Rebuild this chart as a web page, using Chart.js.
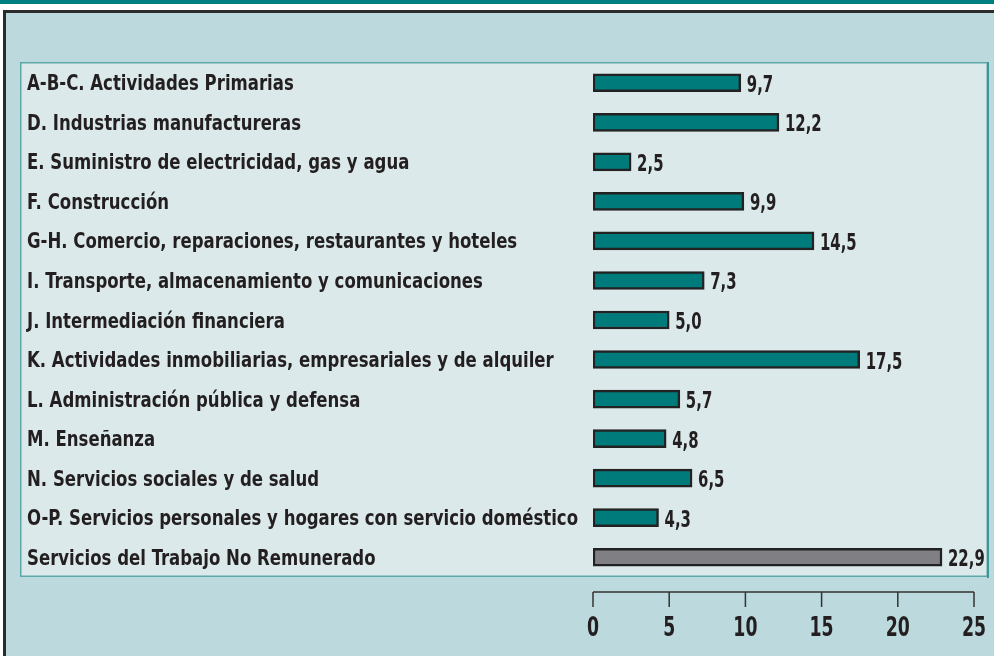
<!DOCTYPE html>
<html>
<head>
<meta charset="utf-8">
<script src="https://cdn.jsdelivr.net/npm/chart.js@4.4.1/dist/chart.umd.min.js"></script>
<style>
html,body{margin:0;padding:0;background:#fff;}
#wrap{position:relative;width:994px;height:656px;}
</style>
</head>
<body>
<div id="wrap"><canvas id="c" width="994" height="656"></canvas></div>
<script>
const categories = [
  "A-B-C. Actividades Primarias",
  "D. Industrias manufactureras",
  "E. Suministro de electricidad, gas y agua",
  "F. Construcción",
  "G-H. Comercio, reparaciones, restaurantes y hoteles",
  "I. Transporte, almacenamiento y comunicaciones",
  "J. Intermediación financiera",
  "K. Actividades inmobiliarias, empresariales y de alquiler",
  "L. Administración pública y defensa",
  "M. Enseñanza",
  "N. Servicios sociales y de salud",
  "O-P. Servicios personales y hogares con servicio doméstico",
  "Servicios del Trabajo No Remunerado"
];
const values = [9.7, 12.2, 2.5, 9.9, 14.5, 7.3, 5.0, 17.5, 5.7, 4.8, 6.5, 4.3, 22.9];
const highlighted = [false,false,false,false,false,false,false,false,false,false,false,false,true];
const xTicks = [0, 5, 10, 15, 20, 25];

const FONT = "'DejaVu Sans Condensed', 'Liberation Sans Narrow', sans-serif";
const TEAL = '#007b7c';
const GRAY = '#808084';
const INK = '#231f20';

function squeezedText(ctx, text, x, y, sx, align) {
  ctx.save();
  ctx.translate(x, y);
  ctx.scale(sx, 1);
  ctx.textAlign = align;
  ctx.fillText(text, 0, 0);
  ctx.restore();
}

const framePlugin = {
  id: 'frame',
  beforeDraw(chart) {
    const ctx = chart.ctx;
    const W = chart.width, H = chart.height;
    const a = chart.chartArea;
    ctx.save();
    ctx.fillStyle = '#ffffff';
    ctx.fillRect(0, 0, W, H);
    ctx.fillStyle = '#007e80';
    ctx.fillRect(0, 0, W, 4);
    ctx.fillStyle = '#bcd9dd';
    ctx.fillRect(4, 11, W, H);
    ctx.strokeStyle = '#2b2b2b';
    ctx.lineWidth = 3;
    ctx.beginPath();
    ctx.moveTo(4.5, H + 5);
    ctx.lineTo(4.5, 11.5);
    ctx.lineTo(W + 5, 11.5);
    ctx.stroke();
    const px = 20, py = a.top - 1, pw = 968, ph = a.bottom - a.top + 1;
    ctx.fillStyle = '#dbe9ea';
    ctx.fillRect(px, py, pw, ph);
    ctx.strokeStyle = '#5ea8aa';
    ctx.lineWidth = 1.5;
    ctx.strokeRect(px + 0.75, py + 0.75, pw - 1.5, ph - 1.5);
    ctx.strokeStyle = '#3f9699';
    ctx.lineWidth = 2;
    ctx.beginPath();
    ctx.moveTo(px + pw, py);
    ctx.lineTo(px + pw, py + ph + 1);
    ctx.stroke();

    const ys = chart.scales.y;
    ctx.fillStyle = INK;
    ctx.font = "bold 22px " + FONT;
    ctx.textBaseline = 'alphabetic';
    let maxW = 0;
    categories.forEach(c => { maxW = Math.max(maxW, ctx.measureText(c).width); });
    const sx = Math.min(0.86, 551 / maxW);
    categories.forEach((c, i) => {
      squeezedText(ctx, c, 27, ys.getPixelForValue(i) + 7.5, sx, 'left');
    });
    ctx.restore();
  },
  afterDraw(chart) {
    const ctx = chart.ctx;
    const xs = chart.scales.x;
    const a = chart.chartArea;
    const yLine = a.bottom + 15;
    ctx.save();
    ctx.strokeStyle = '#333';
    ctx.lineWidth = 1.5;
    const x0 = xs.getPixelForValue(xTicks[0]);
    const x1 = xs.getPixelForValue(xTicks[xTicks.length - 1]);
    ctx.beginPath();
    ctx.moveTo(x0, yLine);
    ctx.lineTo(x1, yLine);
    xTicks.forEach(v => {
      const px = xs.getPixelForValue(v);
      ctx.moveTo(px, yLine);
      ctx.lineTo(px, yLine + 15);
    });
    ctx.stroke();
    ctx.fillStyle = INK;
    ctx.font = "bold 26px " + FONT;
    ctx.textBaseline = 'alphabetic';
    xTicks.forEach(v => {
      squeezedText(ctx, String(v), xs.getPixelForValue(v), a.bottom + 59, 0.74, 'center');
    });
    ctx.restore();
  },
  afterDatasetsDraw(chart) {
    const ctx = chart.ctx;
    const meta = chart.getDatasetMeta(0);
    ctx.save();
    ctx.fillStyle = INK;
    ctx.font = "bold 23px " + FONT;
    ctx.textBaseline = 'alphabetic';
    meta.data.forEach((bar, i) => {
      const t = values[i].toFixed(1).replace('.', ',');
      squeezedText(ctx, t, bar.x + 6, bar.y + 9, 0.72, 'left');
    });
    ctx.restore();
  }
};

new Chart(document.getElementById('c'), {
  type: 'bar',
  data: {
    labels: categories,
    datasets: [{
      data: values,
      backgroundColor: highlighted.map(h => h ? GRAY : TEAL),
      borderColor: '#222',
      borderWidth: 2.5,
      borderSkipped: false,
      barThickness: 18
    }]
  },
  options: {
    indexAxis: 'y',
    responsive: false,
    animation: false,
    devicePixelRatio: 1,
    layout: { padding: { left: 27, top: 63, right: 20, bottom: 0 } },
    plugins: { legend: { display: false }, tooltip: { enabled: false } },
    scales: {
      x: {
        min: 0, max: 25,
        afterBuildTicks(scale) { scale.ticks = xTicks.map(v => ({ value: v })); },
        afterFit(scale) { scale.height = 79; },
        grid: { display: false },
        border: { display: false },
        ticks: { display: false }
      },
      y: {
        afterFit(scale) { scale.width = 566; },
        grid: { display: false },
        border: { display: false },
        ticks: { display: false }
      }
    }
  },
  plugins: [framePlugin]
});
</script>
</body>
</html>
